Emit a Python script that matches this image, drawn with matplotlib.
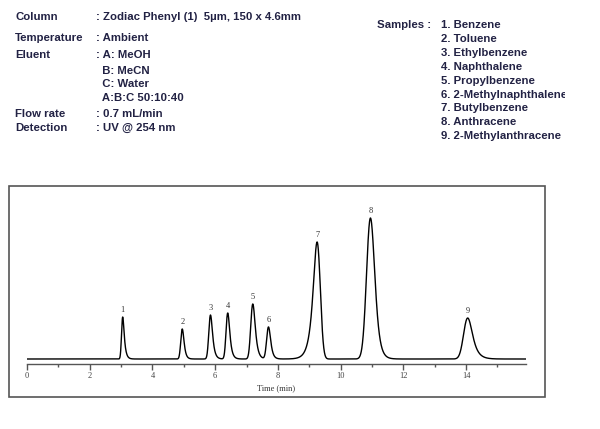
import matplotlib.pyplot as plt
import numpy as np
from matplotlib.patches import Rectangle
from matplotlib.transforms import Bbox, TransformedBbox

# conditions text
cond_labels = ['Column', 'Temperature', 'Eluent', '', '', '', 'Flow rate', 'Detection']
cond_values = [': Zodiac Phenyl (1)  5\u00b5m, 150 x 4.6mm', ': Ambient', ': A: MeOH',
               '  B: MeCN', '  C: Water', '  A:B:C 50:10:40', ': 0.7 mL/min', ': UV @ 254 nm']
cond_y = [17, 38, 55, 71, 84, 98, 114, 128]

samples = ['Benzene', 'Toluene', 'Ethylbenzene', 'Naphthalene', 'Propylbenzene',
           '2-Methylnaphthalene', 'Butylbenzene', 'Anthracene', '2-Methylanthracene']

# peaks: retention time (min), height, sigma, tau (negative = fronting)
rt = [3.05, 4.95, 5.85, 6.40, 7.20, 7.70, 9.25, 10.95, 14.05]
height = [42, 30, 44, 46, 55, 32, 117, 141, 41]
sigma = [0.030, 0.040, 0.045, 0.045, 0.055, 0.050, 0.085, 0.110, 0.110]
tau = [0.05, 0.05, 0.06, 0.06, 0.07, 0.06, -0.12, 0.10, 0.14]

W, H = 600, 429
fig = plt.figure(figsize=(6, 4.29), dpi=100)

def fx(px):
    return px / W

def fy(py):
    return 1 - py / H

font = dict(family='Liberation Sans', fontweight='bold', fontsize=8.2, color='#222244')
for lab, val, y in zip(cond_labels, cond_values, cond_y):
    if lab:
        fig.text(fx(15), fy(y), lab, va='center', **font)
    fig.text(fx(96), fy(y), val, va='center', **font)

clip = TransformedBbox(Bbox([[0, 0], [fx(565), 1]]), fig.transFigure)
fig.text(fx(377), fy(25), 'Samples :', va='center', **font)
for i, s in enumerate(samples):
    txt = fig.text(fx(441), fy(25 + i * 13.9), '%d. %s' % (i + 1, s), va='center', **font)
    txt.set_clip_box(clip)
    txt.set_clip_on(True)

# outer frame
fig.patches.append(Rectangle((fx(9), fy(397)), fx(545) - fx(9), fy(186) - fy(397),
                             transform=fig.transFigure, fill=False, ec='#555555', lw=1.2))

# chromatogram
t = np.linspace(0, 15.91, 6000)
dt = t[1] - t[0]
signal = np.zeros_like(t)
for r, h, s, ta in zip(rt, height, sigma, tau):
    g = np.exp(-0.5 * ((t - 8.0) / s) ** 2)
    k = np.exp(-np.arange(0, 10 * abs(ta), dt) / abs(ta))
    if ta > 0:
        p = np.convolve(g, k)[:len(t)]
    else:
        p = np.convolve(g[::-1], k)[:len(t)][::-1]
    shift = t[np.argmax(p)] - 8.0
    p = np.interp(t, t - shift + (r - 8.0), p, left=0, right=0)
    signal += h * p / p.max()

ax = fig.add_axes([fx(27), fy(364), fx(526) - fx(27), fy(200) - fy(364)])
ax.plot(t, signal, color='black', lw=1.0)
ax.set_xlim(0, 15.91)
ax.set_ylim(-5, 159)
for i, (r, h) in enumerate(zip(rt, height)):
    ax.text(r, h + 3, str(i + 1), ha='center', va='bottom', family='Liberation Serif',
            fontsize=6, color='#333333')

for sp in ['top', 'right', 'left']:
    ax.spines[sp].set_visible(False)
ax.spines['bottom'].set_color('#555555')
ax.spines['bottom'].set_linewidth(1.0)
ax.set_yticks([])
ax.set_xticks(np.arange(0, 15, 2))
ax.set_xticks(np.arange(1, 16, 2), minor=True)
ax.tick_params(axis='x', which='major', direction='out', length=4, width=1, color='#555555',
               labelsize=6, labelcolor='#444444', pad=2)
ax.tick_params(axis='x', which='minor', direction='out', length=2.5, width=1, color='#555555')
for lbl in ax.get_xticklabels():
    lbl.set_family('Liberation Serif')
ax.set_xlabel('Time (min)', family='Liberation Serif', fontsize=6, color='#333333', labelpad=3)

fig.savefig('out.png', dpi=100)
